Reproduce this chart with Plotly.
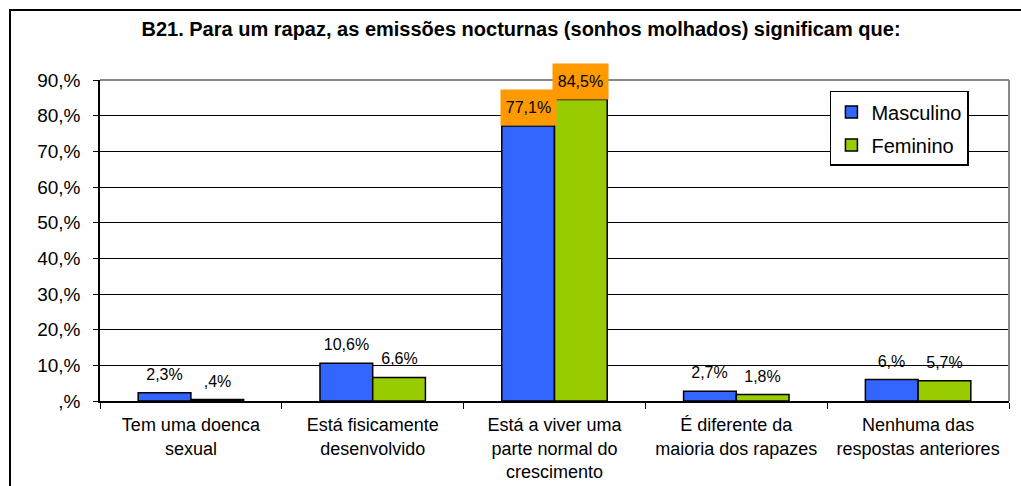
import plotly.graph_objects as go

categories = ["Tem uma doenca<br>sexual", "Está fisicamente<br>desenvolvido",
              "Está a viver uma<br>parte normal do<br>crescimento",
              "É diferente da<br>maioria dos rapazes", "Nenhuma das<br>respostas anteriores"]
masculino = [0.023, 0.106, 0.771, 0.027, 0.060]
feminino = [0.004, 0.066, 0.845, 0.018, 0.057]
masc_labels = ["2,3%", "10,6%", "77,1%", "2,7%", "6,%"]
fem_labels = [",4%", "6,6%", "84,5%", "1,8%", "5,7%"]
tick_vals = [0, 0.1, 0.2, 0.3, 0.4, 0.5, 0.6, 0.7, 0.8, 0.9]
tick_text = [",%", "10,%", "20,%", "30,%", "40,%", "50,%", "60,%", "70,%", "80,%", "90,%"]
highlight = [False, False, True, False, False]

FONT = "Liberation Sans, Arial, sans-serif"
BARGAP = 0.42

fig = go.Figure()
fig.add_trace(go.Bar(name="Masculino", x=categories, y=masculino,
                     marker=dict(color="#3366FF", line=dict(color="black", width=1.5)),
                     legendgroup="m"))
fig.add_trace(go.Bar(name="Feminino", x=categories, y=feminino,
                     marker=dict(color="#99CC00", line=dict(color="black", width=1.5)),
                     legendgroup="f"))

off = (1 - BARGAP) / 4
annotations = []
for i in range(len(categories)):
    for sign, vals, labs in ((-1, masculino, masc_labels), (1, feminino, fem_labels)):
        annotations.append(dict(
            x=i + sign * off, y=vals[i], xref="x", yref="y",
            text=labs[i], showarrow=False, yanchor="bottom", xanchor="center",
            width=51, height=31, borderpad=2,
            bgcolor="#FF9900" if highlight[i] else "rgba(0,0,0,0)",
            font=dict(family=FONT, size=16, color="black"),
        ))

fig.update_layout(
    width=1021, height=486,
    paper_bgcolor="white", plot_bgcolor="white",
    margin=dict(l=100, r=12, t=80, b=85, autoexpand=False),
    barmode="group", bargap=BARGAP, bargroupgap=0,
    title=dict(text="<b>B21. Para um rapaz, as emissões nocturnas (sonhos molhados) significam que:</b>",
               x=521 / 1021, xanchor="center", y=1 - 29 / 486, yanchor="middle",
               font=dict(family=FONT, size=20, color="black")),
    font=dict(family=FONT, color="black"),
    legend=dict(x=0.803, y=0.966, xanchor="left", yanchor="top",
                bordercolor="black", borderwidth=1.5, bgcolor="white",
                font=dict(family=FONT, size=20, color="black"),
                tracegroupgap=4),
    annotations=annotations,
    showlegend=True,
)
fig.update_yaxes(range=[0, 0.9], tickvals=tick_vals, ticktext=tick_text, automargin=False,
                 showgrid=True, gridcolor="black", gridwidth=1,
                 showline=True, linecolor="black", linewidth=1.5,
                 ticks="outside", ticklen=5, tickcolor="black",
                 ticklabelstandoff=9,
                 tickfont=dict(family=FONT, size=19, color="black"), zeroline=False)
fig.update_xaxes(showline=True, linecolor="black", linewidth=1.5, automargin=False,
                 ticks="outside", tickson="boundaries", ticklen=6, tickcolor="black",
                 tickfont=dict(family=FONT, size=18, color="black"),
                 ticklabelstandoff=7)
# plot area border (top and right gray)
fig.add_shape(type="line", xref="paper", yref="paper", x0=0, x1=1, y0=1, y1=1,
              line=dict(color="#888888", width=2), layer="above")
fig.add_shape(type="line", xref="paper", yref="paper", x0=1, x1=1, y0=0, y1=1,
              line=dict(color="#888888", width=2), layer="above")
# outer chart frame
fig.add_shape(type="rect", xref="paper", yref="paper", x0=-0.099, x1=1.05, y0=-0.4, y1=1.218,
              line=dict(color="black", width=2), fillcolor="rgba(0,0,0,0)", layer="above")

fig.write_html("out.html", config={"displayModeBar": False},
               post_script="document.body.style.margin='0';")
